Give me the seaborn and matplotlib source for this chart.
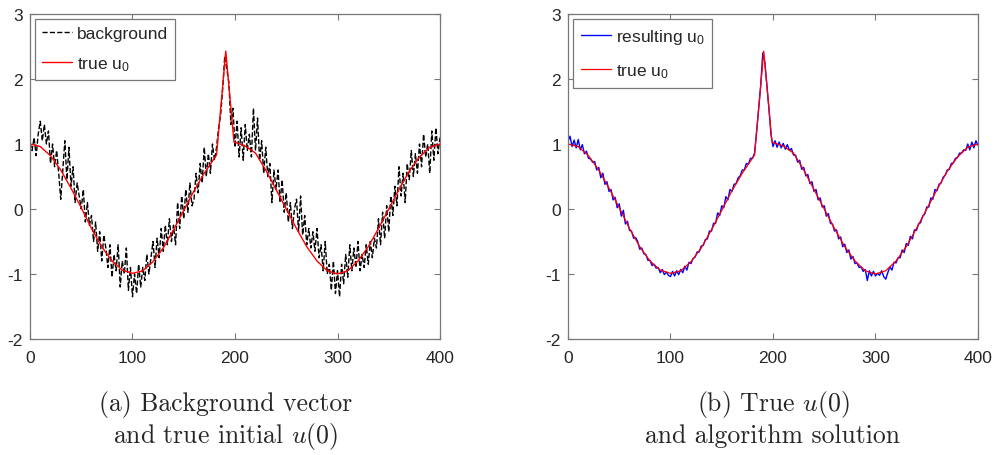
import matplotlib
matplotlib.use("Agg")
import matplotlib.pyplot as plt
import numpy as np
import pandas as pd
import seaborn as sns

# true initial condition u0
x_true = [0, 10, 20, 30, 40, 50, 60, 70, 80, 90, 100, 110, 120, 130, 140, 150,
          160, 170, 182, 191, 199, 210, 220, 230, 240, 250, 260, 270, 280, 290,
          300, 310, 320, 330, 340, 350, 360, 370, 380, 390, 400]
u_true = [1.0, 0.96, 0.82, 0.6, 0.32, 0.02, -0.3, -0.58, -0.8, -0.94, -0.99,
          -0.95, -0.81, -0.6, -0.32, -0.02, 0.28, 0.55, 0.83, 2.43, 1.03, 0.97,
          0.86, 0.6, 0.3, 0.0, -0.3, -0.58, -0.8, -0.95, -1.0, -0.95, -0.8,
          -0.58, -0.3, 0.0, 0.3, 0.58, 0.8, 0.95, 1.0]

# noisy background vector, every 2 grid points
x_bg = list(range(0, 401, 2))
u_bg = [
    1.02, 0.9, 1.1, 0.82, 1.15, 1.35, 1.05, 1.3, 1.0, 1.2,
    0.7, 1.0, 0.65, 0.9, 0.55, 0.15, 0.6, 1.05, 0.45, 0.95,
    0.35, 0.65, 0.1, 0.4, 0.2, 0.0, 0.3, -0.2, 0.1, -0.25,
    -0.1, -0.5, -0.2, -0.65, -0.35, -0.8, -0.4, -0.6, -0.9, -0.55,
    -1.05, -0.7, -0.95, -0.55, -1.2, -0.8, -1.0, -0.6, -1.25, -0.9,
    -1.35, -1.0, -1.3, -0.85, -1.2, -0.9, -1.1, -0.7, -1.0, -0.75,
    -0.5, -0.9, -0.45, -0.75, -0.3, -0.65, -0.25, -0.55, -0.15, -0.5,
    -0.25, -0.55, 0.1, -0.3, 0.2, -0.15, 0.3, -0.05, 0.4, 0.05,
    0.15, 0.55, 0.25, 0.7, 0.4, 0.95, 0.5, 0.85, 0.55, 1.0,
    0.75, 0.95, 1.25, 1.45, 1.85, 2.35, 2.15, 1.95, 1.3, 1.55,
    0.95, 1.35, 0.8, 1.25, 0.75, 1.3, 0.9, 1.15, 0.8, 1.55,
    0.9, 1.4, 0.75, 1.05, 0.55, 0.95, 0.5, 0.7, 0.1, 0.6,
    0.3, 0.6, 0.1, 0.45, -0.05, 0.25, -0.2, 0.1, -0.3, 0.0,
    0.15, -0.35, 0.2, -0.4, -0.1, -0.55, -0.3, -0.6, -0.35, -0.65,
    -0.3, -0.75, -0.55, -0.95, -0.5, -1.0, -0.85, -1.25, -0.8, -1.3,
    -0.95, -1.35, -0.85, -1.15, -0.7, -1.05, -0.55, -0.95, -0.6, -0.9,
    -0.5, -0.95, -0.7, -0.9, -0.55, -0.85, -0.5, -0.75, -0.45, -0.6,
    -0.15, -0.55, -0.05, -0.45, 0.05, -0.35, 0.2, -0.1, 0.35, 0.05,
    0.65, 0.2, 0.55, 0.1, 0.7, 0.45, 0.9, 0.5, 0.85, 0.55,
    1.0, 0.65, 1.15, 0.8, 1.0, 0.55, 1.2, 0.75, 1.25, 0.85,
    1.1,
]

# algorithm result, every 2 grid points
x_res = list(range(0, 401, 2))
u_res = [
    1.04, 1.12, 0.96, 1.06, 0.94, 1.07, 0.91, 0.99, 0.85, 0.89,
    0.78, 0.77, 0.72, 0.73, 0.60, 0.64, 0.48, 0.55, 0.38, 0.42,
    0.27, 0.30, 0.14, 0.18, 0.02, 0.08, -0.11, -0.02, -0.23, -0.19,
    -0.33, -0.34, -0.45, -0.44, -0.50, -0.62, -0.60, -0.69, -0.70, -0.79,
    -0.79, -0.87, -0.85, -0.91, -0.90, -0.98, -0.93, -1.01, -0.97, -1.02,
    -1.04, -0.96, -1.03, -0.95, -1.01, -0.93, -0.98, -0.88, -0.94, -0.82,
    -0.84, -0.76, -0.74, -0.66, -0.66, -0.57, -0.56, -0.47, -0.46, -0.34,
    -0.34, -0.22, -0.22, -0.06, -0.10, 0.05, 0.02, 0.19, 0.14, 0.30,
    0.27, 0.38, 0.39, 0.48, 0.51, 0.60, 0.60, 0.70, 0.69, 0.78,
    0.78, 0.86, 1.19, 1.54, 1.90, 2.40, 2.26, 1.90, 1.55, 1.15,
    0.96, 1.05, 0.95, 1.03, 0.94, 1.01, 0.92, 0.99, 0.90, 0.93,
    0.83, 0.83, 0.72, 0.75, 0.61, 0.64, 0.51, 0.53, 0.39, 0.42,
    0.27, 0.30, 0.14, 0.17, 0.03, 0.05, -0.11, -0.07, -0.22, -0.23,
    -0.34, -0.32, -0.46, -0.43, -0.58, -0.54, -0.67, -0.63, -0.77, -0.73,
    -0.84, -0.83, -0.90, -0.89, -0.96, -0.93, -1.10, -0.95, -1.03, -0.96,
    -1.03, -0.99, -1.02, -0.95, -1.04, -1.08, -0.98, -0.89, -0.94, -0.82,
    -0.83, -0.75, -0.75, -0.63, -0.67, -0.53, -0.56, -0.42, -0.46, -0.32,
    -0.33, -0.23, -0.21, -0.11, -0.08, 0.03, 0.03, 0.17, 0.15, 0.30,
    0.28, 0.38, 0.40, 0.49, 0.52, 0.60, 0.61, 0.70, 0.71, 0.78,
    0.79, 0.86, 0.86, 0.91, 0.90, 1.00, 0.91, 1.03, 0.94, 1.05,
    0.98,
]

x_ticks = [0, 100, 200, 300, 400]
y_ticks = [-2, -1, 0, 1, 2, 3]
caption_a = ["(a) Background vector", "and true initial $\\mathit{u}$(0)"]
caption_b = ["(b) True $\\mathit{u}$(0)", "and algorithm solution"]

sns.set_style("ticks")
plt.rcParams["font.family"] = ["Liberation Sans", "DejaVu Sans"]
plt.rcParams["axes.unicode_minus"] = False
plt.rcParams["mathtext.default"] = "regular"
plt.rcParams["mathtext.fontset"] = "cm"

df_true = pd.DataFrame({"x": x_true, "u": u_true})
df_bg = pd.DataFrame({"x": x_bg, "u": u_bg})
df_res = pd.DataFrame({"x": x_res, "u": u_res})

fig = plt.figure(figsize=(9.95, 4.56), dpi=100)
ax1 = fig.add_axes([30 / 995, 1 - 340 / 456, 410 / 995, 325 / 456])
ax2 = fig.add_axes([568 / 995, 1 - 340 / 456, 410 / 995, 325 / 456])

sns.lineplot(data=df_bg, x="x", y="u", ax=ax1, color="black", lw=1.0,
             linestyle="--", sort=False, label="background")
sns.lineplot(data=df_true, x="x", y="u", ax=ax1, color="red", lw=1.0,
             sort=False, label="true u$_0$")

sns.lineplot(data=df_res, x="x", y="u", ax=ax2, color="blue", lw=1.0,
             sort=False, label="resulting u$_0$")
sns.lineplot(data=df_true, x="x", y="u", ax=ax2, color="red", lw=0.9,
             sort=False, label="true u$_0$")

for ax, spacing, bpad in ((ax1, 0.8, 0.4), (ax2, 0.95, 0.45)):
    ax.set_xlim(0, 400)
    ax.set_ylim(-2, 3)
    ax.set_xticks(x_ticks)
    ax.set_yticks(y_ticks)
    ax.set_xlabel("")
    ax.set_ylabel("")
    ax.tick_params(direction="in", length=4, width=0.8, color="#777777",
                   labelsize=12.5, top=True, right=True)
    ax.tick_params(axis="x", pad=8)
    ax.tick_params(axis="y", pad=5)
    for s in ax.spines.values():
        s.set_color("#777777")
        s.set_linewidth(0.9)
    leg = ax.legend(loc="upper left", fontsize=12.5, frameon=True,
                    fancybox=False, edgecolor="#777777", framealpha=1,
                    handlelength=1.7, handletextpad=0.3, labelspacing=spacing,
                    borderpad=bpad, borderaxespad=0.3)
    leg.get_frame().set_linewidth(0.9)

for cx, lines in ((226, caption_a), (773, caption_b)):
    for cy, line in zip((411, 443), lines):
        fig.text(cx / 995, 1 - cy / 456, line, ha="center", va="baseline",
                 family="cmr10", fontsize=18.5)

fig.savefig("out.png", dpi=100)
